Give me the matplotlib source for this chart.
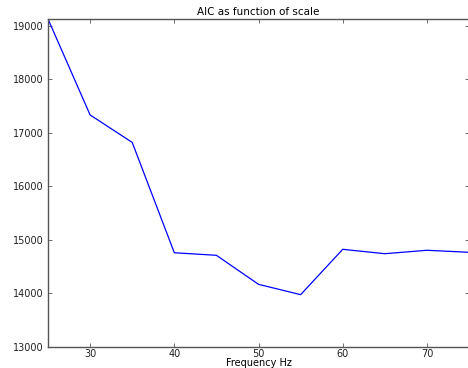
import numpy as np
import matplotlib
matplotlib.use('Agg')
import matplotlib.pyplot as plt

# AIC per frequency scale
freq = [25, 30, 35, 40, 45, 50, 55, 60, 65, 70, 75]
aic = [19125, 17333, 16820, 14760, 14712, 14170, 13977, 14824, 14742, 14806, 14768]

fig = plt.figure(figsize=(4.68, 3.68), dpi=100)
ax = fig.add_axes([0.1026, 0.0571, 0.8996, 0.8913])

ax.plot(freq, aic, color='#0000ff', linewidth=0.9)

ax.set_xlim(25, 75)
ax.set_ylim(13000, 19125)
ax.set_xticks([30, 40, 50, 60, 70])
ax.set_yticks(np.arange(13000, 19001, 1000))
ax.tick_params(direction='in', top=True, right=True, labelsize=7, length=3,
               width=0.6, color='#555555', labelcolor='#222222')
ax.tick_params(axis='x', pad=1.5)
ax.tick_params(axis='y', pad=3)
for s in ax.spines.values():
    s.set_color('#555555')
    s.set_linewidth(1.0)

ax.set_title('AIC as function of scale', fontsize=7.5, pad=3)
ax.set_xlabel('Frequency Hz', fontsize=7, labelpad=-1)

fig.savefig('out.png', dpi=100)
